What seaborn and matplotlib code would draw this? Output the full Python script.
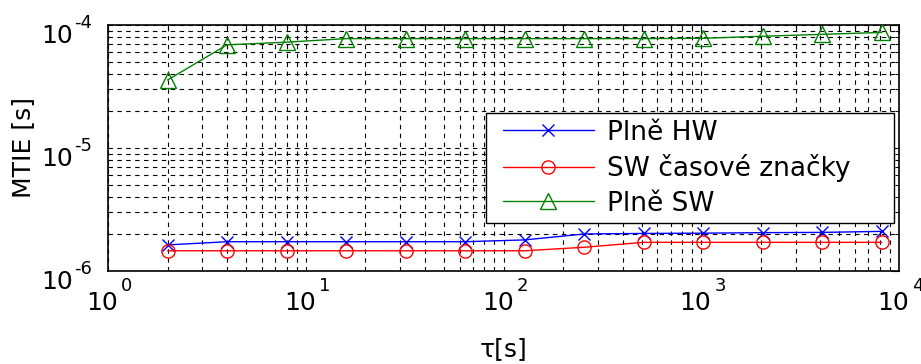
import matplotlib
matplotlib.use("Agg")
import matplotlib.pyplot as plt
import matplotlib.ticker as mticker
import matplotlib.transforms as mtransforms
from matplotlib.lines import Line2D
from matplotlib.legend_handler import HandlerLine2D
import numpy as np
import pandas as pd
import seaborn as sns

# Observation intervals tau [s]
tau = [2, 4, 8, 16, 32, 64, 128, 256, 512, 1024, 2048, 4096, 8192]

# MTIE values [s] for each synchronisation variant
mtie_hw = [1.63e-6, 1.73e-6, 1.73e-6, 1.73e-6, 1.73e-6, 1.73e-6, 1.79e-6,
           2.00e-6, 2.02e-6, 2.03e-6, 2.05e-6, 2.06e-6, 2.10e-6]
mtie_sw_ts = [1.46e-6, 1.46e-6, 1.46e-6, 1.46e-6, 1.46e-6, 1.46e-6, 1.46e-6,
              1.56e-6, 1.71e-6, 1.71e-6, 1.71e-6, 1.71e-6, 1.71e-6]
mtie_sw = [3.57e-5, 6.9e-5, 7.25e-5, 7.75e-5, 7.75e-5, 7.75e-5, 7.75e-5,
           7.75e-5, 7.75e-5, 7.8e-5, 8.1e-5, 8.4e-5, 8.7e-5]

series_names = ["Plně HW", "SW časové značky", "Plně SW"]
series_values = [mtie_hw, mtie_sw_ts, mtie_sw]
series_colors = ["#0000ff", "#ff0000", "#008000"]
series_markers = ["x", "o", "^"]
series_msize = [9, 9.5, 12]

# Decade ticks of both axes
x_ticks = [1, 10, 100, 1000, 10000]
y_ticks = [1e-6, 1e-5, 1e-4]

sns.set_style("white")
plt.rcParams["font.family"] = ["DejaVu Sans"]
plt.rcParams["text.color"] = "black"
plt.rcParams["axes.labelcolor"] = "black"

fig = plt.figure(figsize=(9.21, 3.64), dpi=100)
ax = fig.add_axes([108 / 921, 1 - 271 / 364, 791 / 921, 246 / 364])

for name, vals, col, mk, ms in zip(series_names, series_values, series_colors,
                                   series_markers, series_msize):
    df = pd.DataFrame({"tau": tau, "mtie": vals})
    sns.lineplot(data=df, x="tau", y="mtie", ax=ax, color=col, label=name,
                 marker=mk, markersize=ms, markerfacecolor="none",
                 markeredgecolor=col, markeredgewidth=1.0, linewidth=1.0,
                 zorder=3)

ax.set_xscale("log")
ax.set_yscale("log")
ax.set_xlim(x_ticks[0], x_ticks[-1])
ax.set_ylim(y_ticks[0], y_ticks[-1])

ax.xaxis.set_major_locator(mticker.FixedLocator(x_ticks))
ax.xaxis.set_minor_locator(mticker.LogLocator(base=10, subs=np.arange(2, 10), numticks=20))
ax.yaxis.set_major_locator(mticker.FixedLocator(y_ticks))
ax.yaxis.set_minor_locator(mticker.LogLocator(base=10, subs=np.arange(2, 10), numticks=20))

ax.grid(which="both", color="black", linestyle=(0, (4, 4)), linewidth=0.8)
ax.set_axisbelow(True)

ax.tick_params(which="both", direction="in", top=True, right=True,
               colors="black", labelbottom=False, labelleft=False)
ax.tick_params(which="major", length=6, width=0.8)
ax.tick_params(which="minor", length=3, width=0.8)

for sp in ax.spines.values():
    sp.set_visible(True)
    sp.set_color("black")
    sp.set_linewidth(1.2)

# Power-of-ten tick labels with a raised exponent
base_fs, exp_fs = 18, 13
xt = ax.get_xaxis_transform()
yt = ax.get_yaxis_transform()
for v in x_ticks:
    e = int(round(np.log10(v)))
    ax.text(v, 0, "10", fontsize=base_fs, ha="right", va="top", color="black",
            transform=mtransforms.offset_copy(xt, fig=fig, x=10, y=-20, units="dots"))
    ax.text(v, 0, f"{e}", fontsize=exp_fs, ha="left", va="top", color="black",
            transform=mtransforms.offset_copy(xt, fig=fig, x=13, y=-6, units="dots"))
for v in y_ticks:
    e = int(round(np.log10(v)))
    ax.text(0, v, "10", fontsize=base_fs, ha="right", va="top", color="black",
            transform=mtransforms.offset_copy(yt, fig=fig, x=-35, y=1, units="dots"))
    ax.text(0, v, f"{e}", fontsize=exp_fs, ha="right", va="top", color="black",
            transform=mtransforms.offset_copy(yt, fig=fig, x=-16, y=11, units="dots"))

ax.set_xlabel("τ[s]", fontsize=18, color="black")
ax.set_ylabel("MTIE [s]", fontsize=18, color="black")
ax.xaxis.set_label_coords(0.5, -0.27)
ax.yaxis.set_label_coords(-0.092, 0.5)

leg = ax.legend(loc="upper left", bbox_to_anchor=(0.478, 0.199, 0.516, 0.443),
                mode="expand", borderaxespad=0, fontsize=19, frameon=True,
                fancybox=False, framealpha=1, edgecolor="black",
                handlelength=3.83, handletextpad=0.49, labelspacing=0.32,
                borderpad=0.25, handler_map={Line2D: HandlerLine2D(xpad=0.38)})
leg.get_frame().set_linewidth(1.0)
leg.set_zorder(5)
for t in leg.get_texts():
    t.set_color("black")

fig.savefig("out.png", dpi=100)
